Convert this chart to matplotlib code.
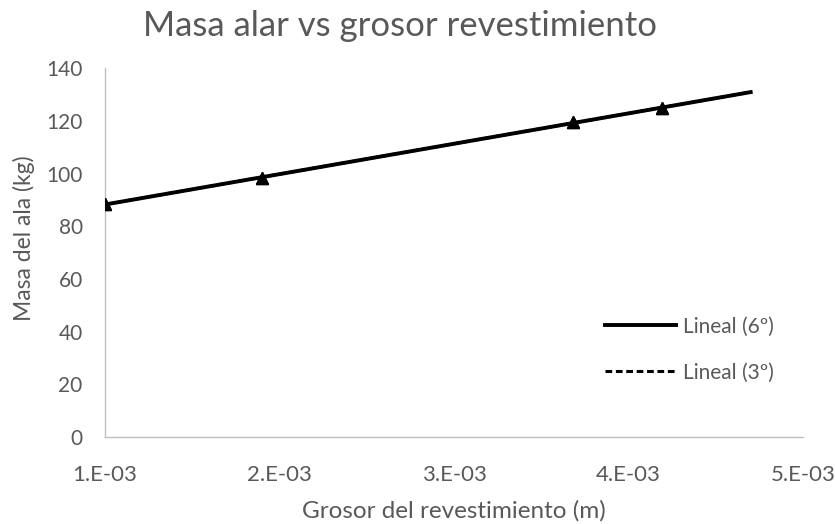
import numpy as np
import matplotlib.pyplot as plt
from matplotlib.ticker import FuncFormatter

plt.rcParams['font.family'] = ['Lato', 'DejaVu Sans']

# grosor del revestimiento (m) y masa del ala (kg)
grosor = [1.0e-3, 1.9e-3, 3.68e-3, 4.19e-3]
masa_6 = [88.4, 98.3, 119.5, 124.8]
masa_3 = [88.4, 98.3, 119.5, 124.8]
x_fin = 4.7e-3  # pronóstico hacia adelante de la línea de tendencia

gris = '#595959'

fig = plt.figure(figsize=(8.35, 5.24), dpi=100)
ax = fig.add_axes([0.1257, 0.166, 0.836, 0.704])

# líneas de tendencia lineales
xs = np.array([grosor[0], x_fin])
p3 = np.polyfit(grosor, masa_3, 1)
p6 = np.polyfit(grosor, masa_6, 1)
ax.plot(xs, np.polyval(p3, xs), color='black', lw=2.2, ls=(0, (2.2, 1.2)),
        label='Lineal (3º)', zorder=2)
ax.plot(xs, np.polyval(p6, xs), color='black', lw=2.8, label='Lineal (6º)', zorder=3)

# puntos de datos
ax.plot(grosor, masa_3, ls='none', marker='^', ms=8, color='black', zorder=4)
ax.plot(grosor, masa_6, ls='none', marker='^', ms=8, color='black', zorder=4)

ax.set_xlim(1e-3, 5e-3)
ax.set_ylim(0, 140)
ax.set_xticks([1e-3, 2e-3, 3e-3, 4e-3, 5e-3])
ax.set_yticks(range(0, 141, 20))
ax.xaxis.set_major_formatter(FuncFormatter(lambda v, p: f'{v * 1000:.0f}.E-03'))

for s in ['top', 'right']:
    ax.spines[s].set_visible(False)
for s in ['left', 'bottom']:
    ax.spines[s].set_color('#bfbfbf')
    ax.spines[s].set_linewidth(1.0)
ax.tick_params(length=0, colors=gris)
ax.tick_params(axis='x', labelsize=16, pad=20)
ax.tick_params(axis='y', labelsize=15, pad=16)

ax.set_xlabel('Grosor del revestimiento (m)', fontsize=17.5, color=gris)
ax.set_ylabel('Masa del ala (kg)', fontsize=16.5, color=gris)
ax.xaxis.set_label_coords(0.5, -0.17)
ax.yaxis.set_label_coords(-0.1, 0.54)
fig.text(0.479, 0.951, 'Masa alar vs grosor revestimiento', ha='center', va='center',
         fontsize=25, color=gris)

h, l = ax.get_legend_handles_labels()
leg = ax.legend(h[::-1], l[::-1], loc='center left', bbox_to_anchor=(0.69, 0.237),
                frameon=False, fontsize=15, handlelength=3.4, handletextpad=0.35,
                labelspacing=1.25)
for t in leg.get_texts():
    t.set_color(gris)

fig.savefig('out.png', dpi=100)
